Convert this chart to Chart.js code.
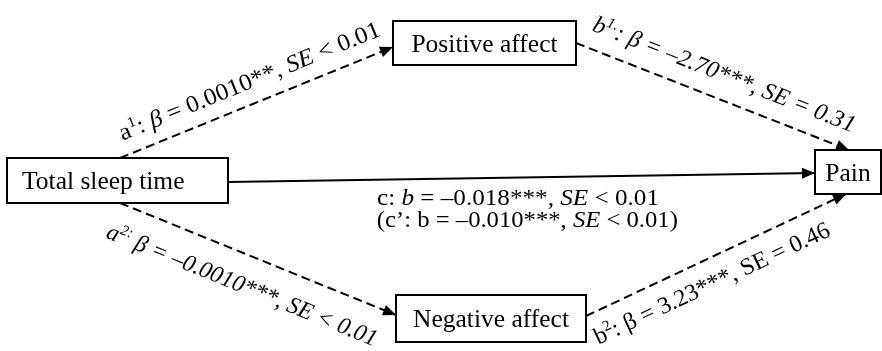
<!DOCTYPE html>
<html>
<head>
<meta charset="utf-8">
<title>Total sleep time, affect and pain</title>
<script src="https://cdn.jsdelivr.net/npm/chart.js@4.4.1/dist/chart.umd.min.js"></script>
<style>
  html, body { margin: 0; padding: 0; background: #fff; }
  #wrap { width: 882px; height: 351px; position: relative; }
</style>
</head>
<body>
<div id="wrap"><canvas id="path-chart"></canvas></div>
<script>
// variables in the model
const nodeNames = ['Total sleep time', 'Positive affect', 'Negative affect', 'Pain'];

// paths between them
const pathNames = ['a1', 'b1', 'c', 'a2', 'b2'];
const pathFrom = [0, 1, 0, 0, 2];
const pathTo = [1, 3, 3, 2, 3];
const pathCoef = ['0.0010**', '–2.70***', '–0.018***', '–0.0010***', '3.23***'];
const pathSE = ['< 0.01', '= 0.31', '< 0.01', '< 0.01', '= 0.46'];
const pathDashed = [true, true, false, true, true];

// direct effect once the mediators are in (c')
const directCoef = '–0.010***';
const directSE = '< 0.01';

// layout in chart units (x 0..882, y 0..351 from the top)
const nodeX = [117.5, 484.5, 491, 848];
const nodeY = [180.5, 43, 318.5, 172];
const nodeW = [221, 183, 190, 66];
const nodeH = [45, 44, 47, 44];
const nodeAlign = ['left', 'center', 'center', 'center'];
const fromSide = ['top', 'right', 'right', 'bottom', 'right'];
const fromShift = [2.5, 0, 1.5, 2.5, -2.5];
const toSide = ['left', 'top', 'left', 'left', 'bottom'];
const toShift = [4, 1, 1, -3.5, -2];
// label: where along the path, distance from it (+ above), stretched length
const labelT = [0.505, 0.51, 0.494, 0.484, 0.445];
const labelOff = [15, 17.5, -27.4, -37.5, -31.3];
const labelLen = [280, 280, 282, 290, 258];
const directT = 0.51, directOff = -49.6, directLen = 301;

const SERIF = '"Liberation Serif", "Times New Roman", serif';

function anchor(n, side, shift) {
    const x = nodeX[n], y = nodeY[n], hw = nodeW[n] / 2, hh = nodeH[n] / 2;
    if (side === 'top') return { x: x + shift, y: y - hh };
    if (side === 'bottom') return { x: x + shift, y: y + hh };
    if (side === 'left') return { x: x - hw, y: y + shift };
    return { x: x + hw, y: y + shift };
}

function labelSegments(i) {
    const c = pathCoef[i], se = pathSE[i];
    switch (pathNames[i]) {
        case 'a1': return [['a', 'n'], ['1', 'sup'], [': ', 'n'], ['β', 'i'], [' = ' + c + ', ', 'n'], ['SE', 'i'], [' ' + se, 'n']];
        case 'b1': return [['b', 'i'], ['1.', 'supi'], [': β = ' + c + ', SE ' + se, 'i']];
        case 'c': return [['c: ', 'n'], ['b', 'i'], [' = ' + c + ', ', 'n'], ['SE', 'i'], [' ' + se, 'n']];
        case 'a2': return [['a', 'i'], ['2:', 'supi'], [' β = ' + c + ', SE ' + se, 'i']];
        case 'b2': return [['b', 'n'], ['2', 'sup'], [': β = ' + c + ', SE ' + se, 'n']];
    }
    return [];
}

function fontFor(style, size) {
    const sup = style.indexOf('sup') === 0;
    const ital = style === 'i' || style === 'supi';
    return (ital ? 'italic ' : '') + (sup ? Math.round(size * 0.62) : size) + 'px ' + SERIF;
}

function drawRich(ctx, segs, x, y, angle, size, len) {
    let natural = 0;
    segs.forEach(s => { ctx.font = fontFor(s[1], size); natural += ctx.measureText(s[0]).width; });
    ctx.save();
    ctx.translate(x, y);
    ctx.rotate(angle);
    ctx.scale(len / natural, 1);
    ctx.textAlign = 'left';
    ctx.textBaseline = 'alphabetic';
    ctx.fillStyle = '#000';
    let cx = 0;
    segs.forEach(s => {
        ctx.font = fontFor(s[1], size);
        const dy = s[1].indexOf('sup') === 0 ? -size * 0.38 : 0;
        ctx.fillText(s[0], cx, dy);
        cx += ctx.measureText(s[0]).width;
    });
    ctx.restore();
}

// puts a label alongside a path, flat ones stay horizontal
function placeLabel(ctx, p0, p1, segs, t, off, len, flat) {
    const dx = p1.x - p0.x, dy = p1.y - p0.y;
    const d = Math.hypot(dx, dy);
    const u = flat ? { x: 1, y: 0 } : { x: dx / d, y: dy / d };
    const n = { x: u.y, y: -u.x };
    const mx = p0.x + dx * t + n.x * off;
    const my = p0.y + dy * t + n.y * off;
    drawRich(ctx, segs, mx - u.x * len / 2, my - u.y * len / 2, Math.atan2(u.y, u.x), 24, len);
}

const diagramPlugin = {
    id: 'pathDiagram',
    afterDatasetsDraw(chart) {
        const ctx = chart.ctx;
        const xs = chart.scales.x, ys = chart.scales.y;
        const px = p => ({ x: xs.getPixelForValue(p.x), y: ys.getPixelForValue(p.y) });

        // boxes
        nodeNames.forEach((name, n) => {
            const l = xs.getPixelForValue(nodeX[n] - nodeW[n] / 2);
            const r = xs.getPixelForValue(nodeX[n] + nodeW[n] / 2);
            const t = ys.getPixelForValue(nodeY[n] - nodeH[n] / 2);
            const b = ys.getPixelForValue(nodeY[n] + nodeH[n] / 2);
            ctx.save();
            ctx.fillStyle = '#fff';
            ctx.fillRect(l, t, r - l, b - t);
            ctx.strokeStyle = '#000';
            ctx.lineWidth = 2;
            ctx.strokeRect(l, t, r - l, b - t);
            ctx.fillStyle = '#000';
            ctx.font = '25.5px ' + SERIF;
            ctx.textBaseline = 'alphabetic';
            const cy = (t + b) / 2 + 8.5;
            if (nodeAlign[n] === 'left') {
                ctx.textAlign = 'left';
                ctx.fillText(name, l + 15, cy);
            } else {
                ctx.textAlign = 'center';
                ctx.fillText(name, (l + r) / 2, cy);
            }
            ctx.restore();
        });

        // arrow heads and path labels
        pathNames.forEach((name, i) => {
            const data = chart.data.datasets[i].data;
            const p0 = px(data[0]), p1 = px(data[1]);
            const a = Math.atan2(p1.y - p0.y, p1.x - p0.x);
            ctx.save();
            ctx.translate(p1.x, p1.y);
            ctx.rotate(a);
            ctx.beginPath();
            ctx.moveTo(0, 0);
            ctx.lineTo(-13, -5.5);
            ctx.lineTo(-13, 5.5);
            ctx.closePath();
            ctx.fillStyle = '#000';
            ctx.fill();
            ctx.restore();

            const flat = name === 'c';
            placeLabel(ctx, p0, p1, labelSegments(i), labelT[i], labelOff[i], labelLen[i], flat);
            if (flat) {
                const segs = [['(c’: b = ' + directCoef + ', ', 'n'], ['SE', 'i'], [' ' + directSE + ')', 'n']];
                placeLabel(ctx, p0, p1, segs, directT, directOff, directLen, true);
            }
        });
    }
};

const datasets = pathNames.map((name, i) => ({
    label: name,
    data: [anchor(pathFrom[i], fromSide[i], fromShift[i]), anchor(pathTo[i], toSide[i], toShift[i])],
    showLine: true,
    borderColor: '#000',
    borderWidth: 2,
    borderDash: pathDashed[i] ? [9, 5] : [],
    pointRadius: 0,
    fill: false,
    clip: false
}));

new Chart(document.getElementById('path-chart'), {
    type: 'scatter',
    data: { datasets: datasets },
    options: {
        responsive: true,
        maintainAspectRatio: false,
        animation: false,
        devicePixelRatio: 1,
        layout: { padding: 0 },
        scales: {
            x: { type: 'linear', min: 0, max: 882, display: false },
            y: { type: 'linear', min: 0, max: 351, reverse: true, display: false }
        },
        plugins: {
            legend: { display: false },
            tooltip: { enabled: false }
        }
    },
    plugins: [diagramPlugin]
});
</script>
</body>
</html>
